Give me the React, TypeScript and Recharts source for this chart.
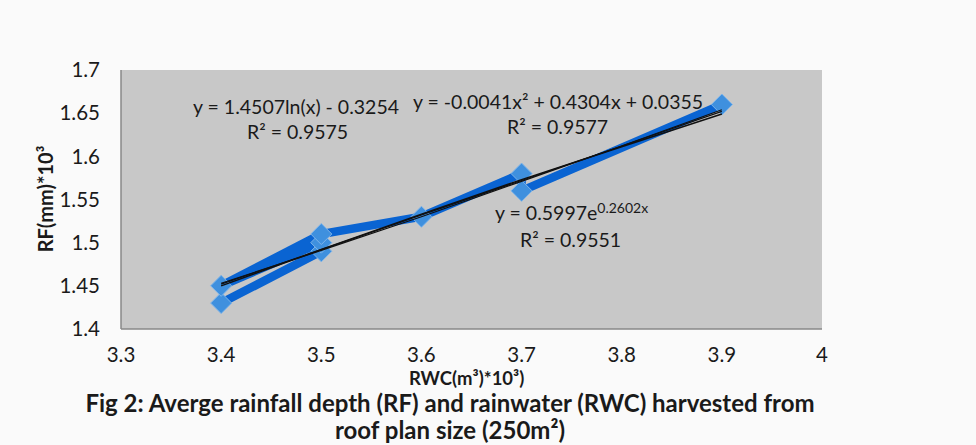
import React from 'react'
import { ScatterChart, Scatter, XAxis, YAxis, CartesianGrid } from 'recharts'

// RWC (m3 *10^3) vs RF (mm *10^3), in the order the line joins them
const rwc = [3.4, 3.5, 3.5, 3.4, 3.5, 3.6, 3.7, 3.7, 3.9]
const rf = [1.43, 1.49, 1.5, 1.45, 1.51, 1.53, 1.58, 1.56, 1.66]

// trendlines
const trendX = [3.4, 3.5, 3.6, 3.7, 3.8, 3.9]
const logTrend = [1.45, 1.492, 1.533, 1.573, 1.611, 1.649]
const polyTrend = [1.452, 1.492, 1.532, 1.572, 1.612, 1.652]
const expTrend = [1.453, 1.491, 1.53, 1.571, 1.612, 1.654]

const xTicks = [3.3, 3.4, 3.5, 3.6, 3.7, 3.8, 3.9, 4]
const yTicks = [1.4, 1.45, 1.5, 1.55, 1.6, 1.65, 1.7]

const points = rwc.map((x, i) => ({ x, y: rf[i] }))
const toLine = (ys: number[]) => trendX.map((x, i) => ({ x, y: ys[i] }))

const FONT = 'Lato, "Open Sans", sans-serif'

const Diamond = (props: any) => {
  const { cx, cy } = props
  if (cx == null || cy == null) return <g />
  const r = 10.5
  return (
    <polygon
      points={`${cx},${cy - r} ${cx + r},${cy} ${cx},${cy + r} ${cx - r},${cy}`}
      fill="#3f90de"
      stroke="#7db4ea"
      strokeWidth={1}
    />
  )
}

const NoDot = () => <g />

const txt: React.CSSProperties = {
  position: 'absolute',
  whiteSpace: 'nowrap',
  fontFamily: FONT,
  fontSize: 19.5,
  lineHeight: '22px',
  color: '#1a1a1a',
}

export default function App() {
  return (
    <div style={{ position: 'absolute', left: 0, top: 0, width: 976, height: 445, background: '#fafafa', fontFamily: FONT }}>
      <ScatterChart width={976} height={445} margin={{ top: 70, right: 154, bottom: 86, left: 61 }}>
        <CartesianGrid fill="#c8c8c8" horizontal={false} vertical={false} />
        <XAxis
          type="number"
          dataKey="x"
          domain={[3.3, 4]}
          ticks={xTicks}
          allowDataOverflow
          height={30}
          tickLine={false}
          tickSize={0}
          tickMargin={18}
          axisLine={{ stroke: '#888888', strokeWidth: 1.5 }}
          tick={{ fill: '#1a1a1a', fontSize: 20.5, fontFamily: FONT }}
        />
        <YAxis
          type="number"
          dataKey="y"
          domain={[1.4, 1.7]}
          ticks={yTicks}
          allowDataOverflow
          width={60}
          tickLine={false}
          tickSize={0}
          tickMargin={21}
          axisLine={{ stroke: '#888888', strokeWidth: 1.5 }}
          tick={{ fill: '#1a1a1a', fontSize: 20.5, fontFamily: FONT }}
        />
        <Scatter
          data={points}
          line={{ stroke: '#0a64d2', strokeWidth: 8.5 }}
          shape={Diamond}
          isAnimationActive={false}
        />
        <Scatter data={toLine(logTrend)} line={{ stroke: '#111', strokeWidth: 1.5 }} shape={NoDot} isAnimationActive={false} />
        <Scatter data={toLine(polyTrend)} line={{ stroke: '#111', strokeWidth: 1.2 }} shape={NoDot} isAnimationActive={false} />
        <Scatter data={toLine(expTrend)} line={{ stroke: '#111', strokeWidth: 1.2 }} shape={NoDot} isAnimationActive={false} />
      </ScatterChart>

      {/* y axis title */}
      <div
        style={{
          ...txt,
          left: 45,
          top: 199,
          fontSize: 20,
          fontWeight: 700,
          transform: 'translate(-50%, -50%) rotate(-90deg)',
        }}
      >
        RF(mm)*10³
      </div>

      {/* trendline equations */}
      <div style={{ ...txt, left: 193, top: 96 }}>y = 1.4507ln(x) - 0.3254</div>
      <div style={{ ...txt, left: 247, top: 121 }}>R² = 0.9575</div>
      <div style={{ ...txt, left: 413, top: 91 }}>y = -0.0041x² + 0.4304x + 0.0355</div>
      <div style={{ ...txt, left: 507, top: 116 }}>R² = 0.9577</div>
      <div style={{ ...txt, left: 495, top: 202 }}>
        y = 0.5997e<sup style={{ fontSize: 14, verticalAlign: 'super', lineHeight: 0 }}>0.2602x</sup>
      </div>
      <div style={{ ...txt, left: 520, top: 229 }}>R² = 0.9551</div>

      <div style={{ ...txt, left: 409, top: 370, fontSize: 18.5, lineHeight: '16px', fontWeight: 700 }}>RWC(m³)*10³)</div>

      <div
        style={{
          position: 'absolute',
          left: 0,
          width: 900,
          top: 389,
          textAlign: 'center',
          fontFamily: FONT,
          fontWeight: 700,
          fontSize: 24,
          lineHeight: '27px',
          color: '#1a1a1a',
        }}
      >
        Fig 2: Averge rainfall depth (RF) and rainwater (RWC) harvested from
        <br />
        roof plan size (250m²)
      </div>
    </div>
  )
}
